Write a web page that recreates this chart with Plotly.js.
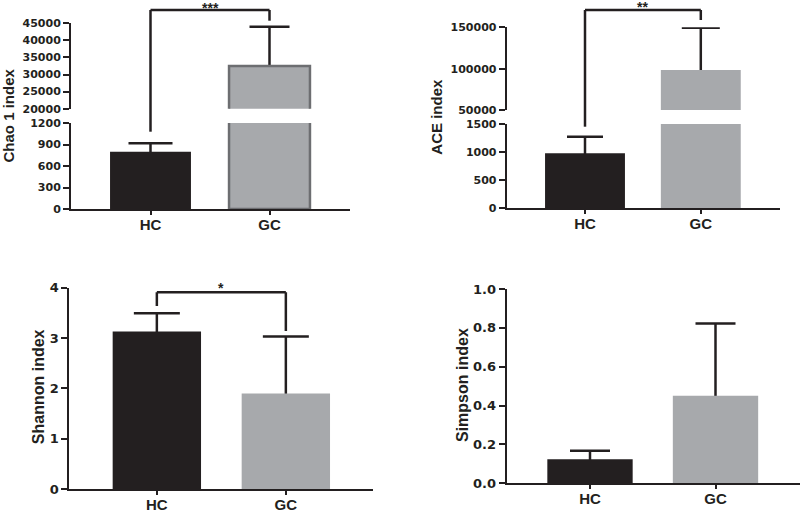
<!DOCTYPE html>
<html><head><meta charset="utf-8">
<script src="https://cdn.plot.ly/plotly-3.0.1.min.js"></script>
<style>html,body{margin:0;padding:0;background:#fff}</style>
</head><body><div id="chart" style="width:800px;height:513px"></div>
<script>
// ---- data ----
const groups = ['HC', 'GC'];
const chao1Mean = [800, 32500];
const chao1SD = [117, 11500];
const aceMean = [980, 98400];
const aceSD = [295, 51000];
const shannonMean = [3.13, 1.90];
const shannonSD = [0.36, 1.13];
const simpsonMean = [0.124, 0.45];
const simpsonSD = [0.044, 0.373];

const chao1LowTicks = [0, 300, 600, 900, 1200];
const chao1HighTicks = [20000, 25000, 30000, 35000, 40000, 45000];
const aceLowTicks = [0, 500, 1000, 1500];
const aceHighTicks = [50000, 100000, 150000];
const shannonTicks = [0, 1, 2, 3, 4];
const simpsonTicks = [0, 0.2, 0.4, 0.6, 0.8, 1.0];
const simpsonTickText = ['0.0', '0.2', '0.4', '0.6', '0.8', '1.0'];

const sigLabels = ['***', '**', '*'];
const titles = ['Chao 1 index', 'ACE index', 'Shannon index', 'Simpson index'];

// ---- styling ----
const W = 800, H = 513;
const INK = '#231f20';
const DARK = '#231f20';
const GREY = '#a7a9ac';
const FONT = 'Arial, "Liberation Sans", sans-serif';
const TICKFONT = '"DejaVu Sans", Arial, sans-serif';
const px = v => v / W;
const py = v => 1 - v / H;

const data = [];
const layout = {
  width: W, height: H,
  margin: {l: 0, r: 0, t: 0, b: 0},
  paper_bgcolor: '#fff', plot_bgcolor: 'rgba(0,0,0,0)',
  showlegend: false, barmode: 'overlay',
  font: {family: FONT, color: INK, size: 13, weight: 'bold'},
  shapes: [], annotations: []
};

function xAxis(x0, x1, anchor, cHC, cGC) {
  const unit = cGC - cHC;
  return {
    domain: [px(x0), px(x1)], anchor: anchor,
    type: 'category', categoryorder: 'array', categoryarray: groups,
    range: [-(cHC - x0) / unit, (x1 - cHC) / unit],
    showline: true, linewidth: 2, linecolor: INK,
    ticks: 'outside', ticklen: 4, tickwidth: 2, tickcolor: INK,
    ticklabelstandoff: -3,
    showgrid: false, zeroline: false, fixedrange: true,
    tickfont: {family: FONT, size: 15, color: INK, weight: 'bold'}
  };
}
function yAxis(top, bottom, anchor, range, ticks, fsize, ticktext) {
  const a = {
    domain: [py(bottom), py(top)], anchor: anchor, range: range,
    tickmode: 'array', tickvals: ticks, tickformat: 'd',
    showline: true, linewidth: 2, linecolor: INK,
    ticks: 'outside', ticklen: 6, tickwidth: 2, tickcolor: INK,
    showgrid: false, zeroline: false, fixedrange: true,
    tickfont: {family: TICKFONT, size: fsize, color: INK, weight: 'bold'}
  };
  if (ticktext) { a.ticktext = ticktext; delete a.tickformat; }
  return a;
}
function bars(xa, ya, mean, sd, capw, width, outline) {
  // error bars first (under the bars), so only the upper arm shows
  data.push({
    type: 'bar', x: groups, y: mean, xaxis: xa, yaxis: ya, width: width,
    marker: {color: 'rgba(0,0,0,0)', line: {width: 0}},
    error_y: {type: 'data', symmetric: true, array: sd,
      color: INK, thickness: 2.5, width: capw},
    hoverinfo: 'skip'
  });
  data.push({
    type: 'bar', x: groups, y: mean, xaxis: xa, yaxis: ya, width: width,
    marker: {color: [DARK, GREY],
      line: outline ? {color: [DARK, '#6d6e71'], width: [0, 2.5]} : {width: 0}},
    hoverinfo: 'skip'
  });
}
function line(xref, x0, x1, y0, y1) {
  layout.shapes.push({type: 'line', xref: xref, yref: 'paper', x0: x0, x1: x1,
    y0: py(y0), y1: py(y1), line: {color: INK, width: 2.5}});
}
function bracket(xref, yLeft, yTop, yRight, label, yLabel) {
  const i0 = groups.indexOf('HC'), i1 = groups.indexOf('GC');
  line(xref, i0, i0, yLeft, yTop);
  line(xref, i0, i1, yTop, yTop);
  line(xref, i1, i1, yTop, yRight);
  layout.annotations.push({xref: xref, yref: 'paper', x: (i0 + i1) / 2, y: py(yLabel),
    text: label, showarrow: false, yanchor: 'middle',
    font: {family: FONT, size: 14, color: INK, weight: 'bold'}});
}
function yTitle(text, x, y, size) {
  layout.annotations.push({xref: 'paper', yref: 'paper', x: px(x), y: py(y), text: text,
    textangle: -90, showarrow: false, xanchor: 'center', yanchor: 'middle',
    font: {family: FONT, size: size, color: INK, weight: 'bold'}});
}

// Panel 1: Chao 1 (broken axis)
layout.xaxis = xAxis(71, 350, 'y', 150.5, 269.5);
layout.yaxis = yAxis(123, 209, 'x', [0, 1200], chao1LowTicks, 11);
layout.yaxis2 = yAxis(23.3, 108.7, 'x', [20000, 45000], chao1HighTicks, 11);
bars('x', 'y', chao1Mean, chao1SD, 22, 0.68, true);
bars('x', 'y2', chao1Mean, chao1SD, 20, 0.68, true);
bracket('x', 131.7, 10, 20.7, sigLabels[0], 8);
yTitle(titles[0], 8, 115.5, 15);

// Panel 2: ACE (broken axis)
layout.xaxis3 = xAxis(506.7, 780, 'y3', 585, 700.8);
layout.yaxis3 = yAxis(124, 208.3, 'x3', [0, 1500], aceLowTicks, 11);
layout.yaxis4 = yAxis(27.3, 110, 'x3', [50000, 150000], aceHighTicks, 11);
bars('x3', 'y3', aceMean, aceSD, 18, 0.69, false);
bars('x3', 'y4', aceMean, aceSD, 19, 0.69, false);
bracket('x3', 126.7, 10, 20, sigLabels[1], 7);
yTitle(titles[1], 437, 116.7, 15);

// Panel 3: Shannon
layout.xaxis5 = xAxis(69.3, 372.7, 'y5', 156.85, 285.85);
layout.yaxis5 = yAxis(287.7, 489, 'x5', [0, 4], shannonTicks, 13);
bars('x5', 'y5', shannonMean, shannonSD, 23, 0.685, false);
bracket('x5', 306, 292.3, 331, sigLabels[2], 288);
yTitle(titles[2], 38.5, 386.7, 16);

// Panel 4: Simpson
layout.xaxis6 = xAxis(506.7, 800, 'y6', 590, 715.5);
layout.yaxis6 = yAxis(289, 483.3, 'x6', [0, 1], simpsonTicks, 13, simpsonTickText);
bars('x6', 'y6', simpsonMean, simpsonSD, 20, 0.68, false);
yTitle(titles[3], 462, 385, 16);

Plotly.newPlot('chart', data, layout, {displayModeBar: false, staticPlot: true});
</script></body></html>
